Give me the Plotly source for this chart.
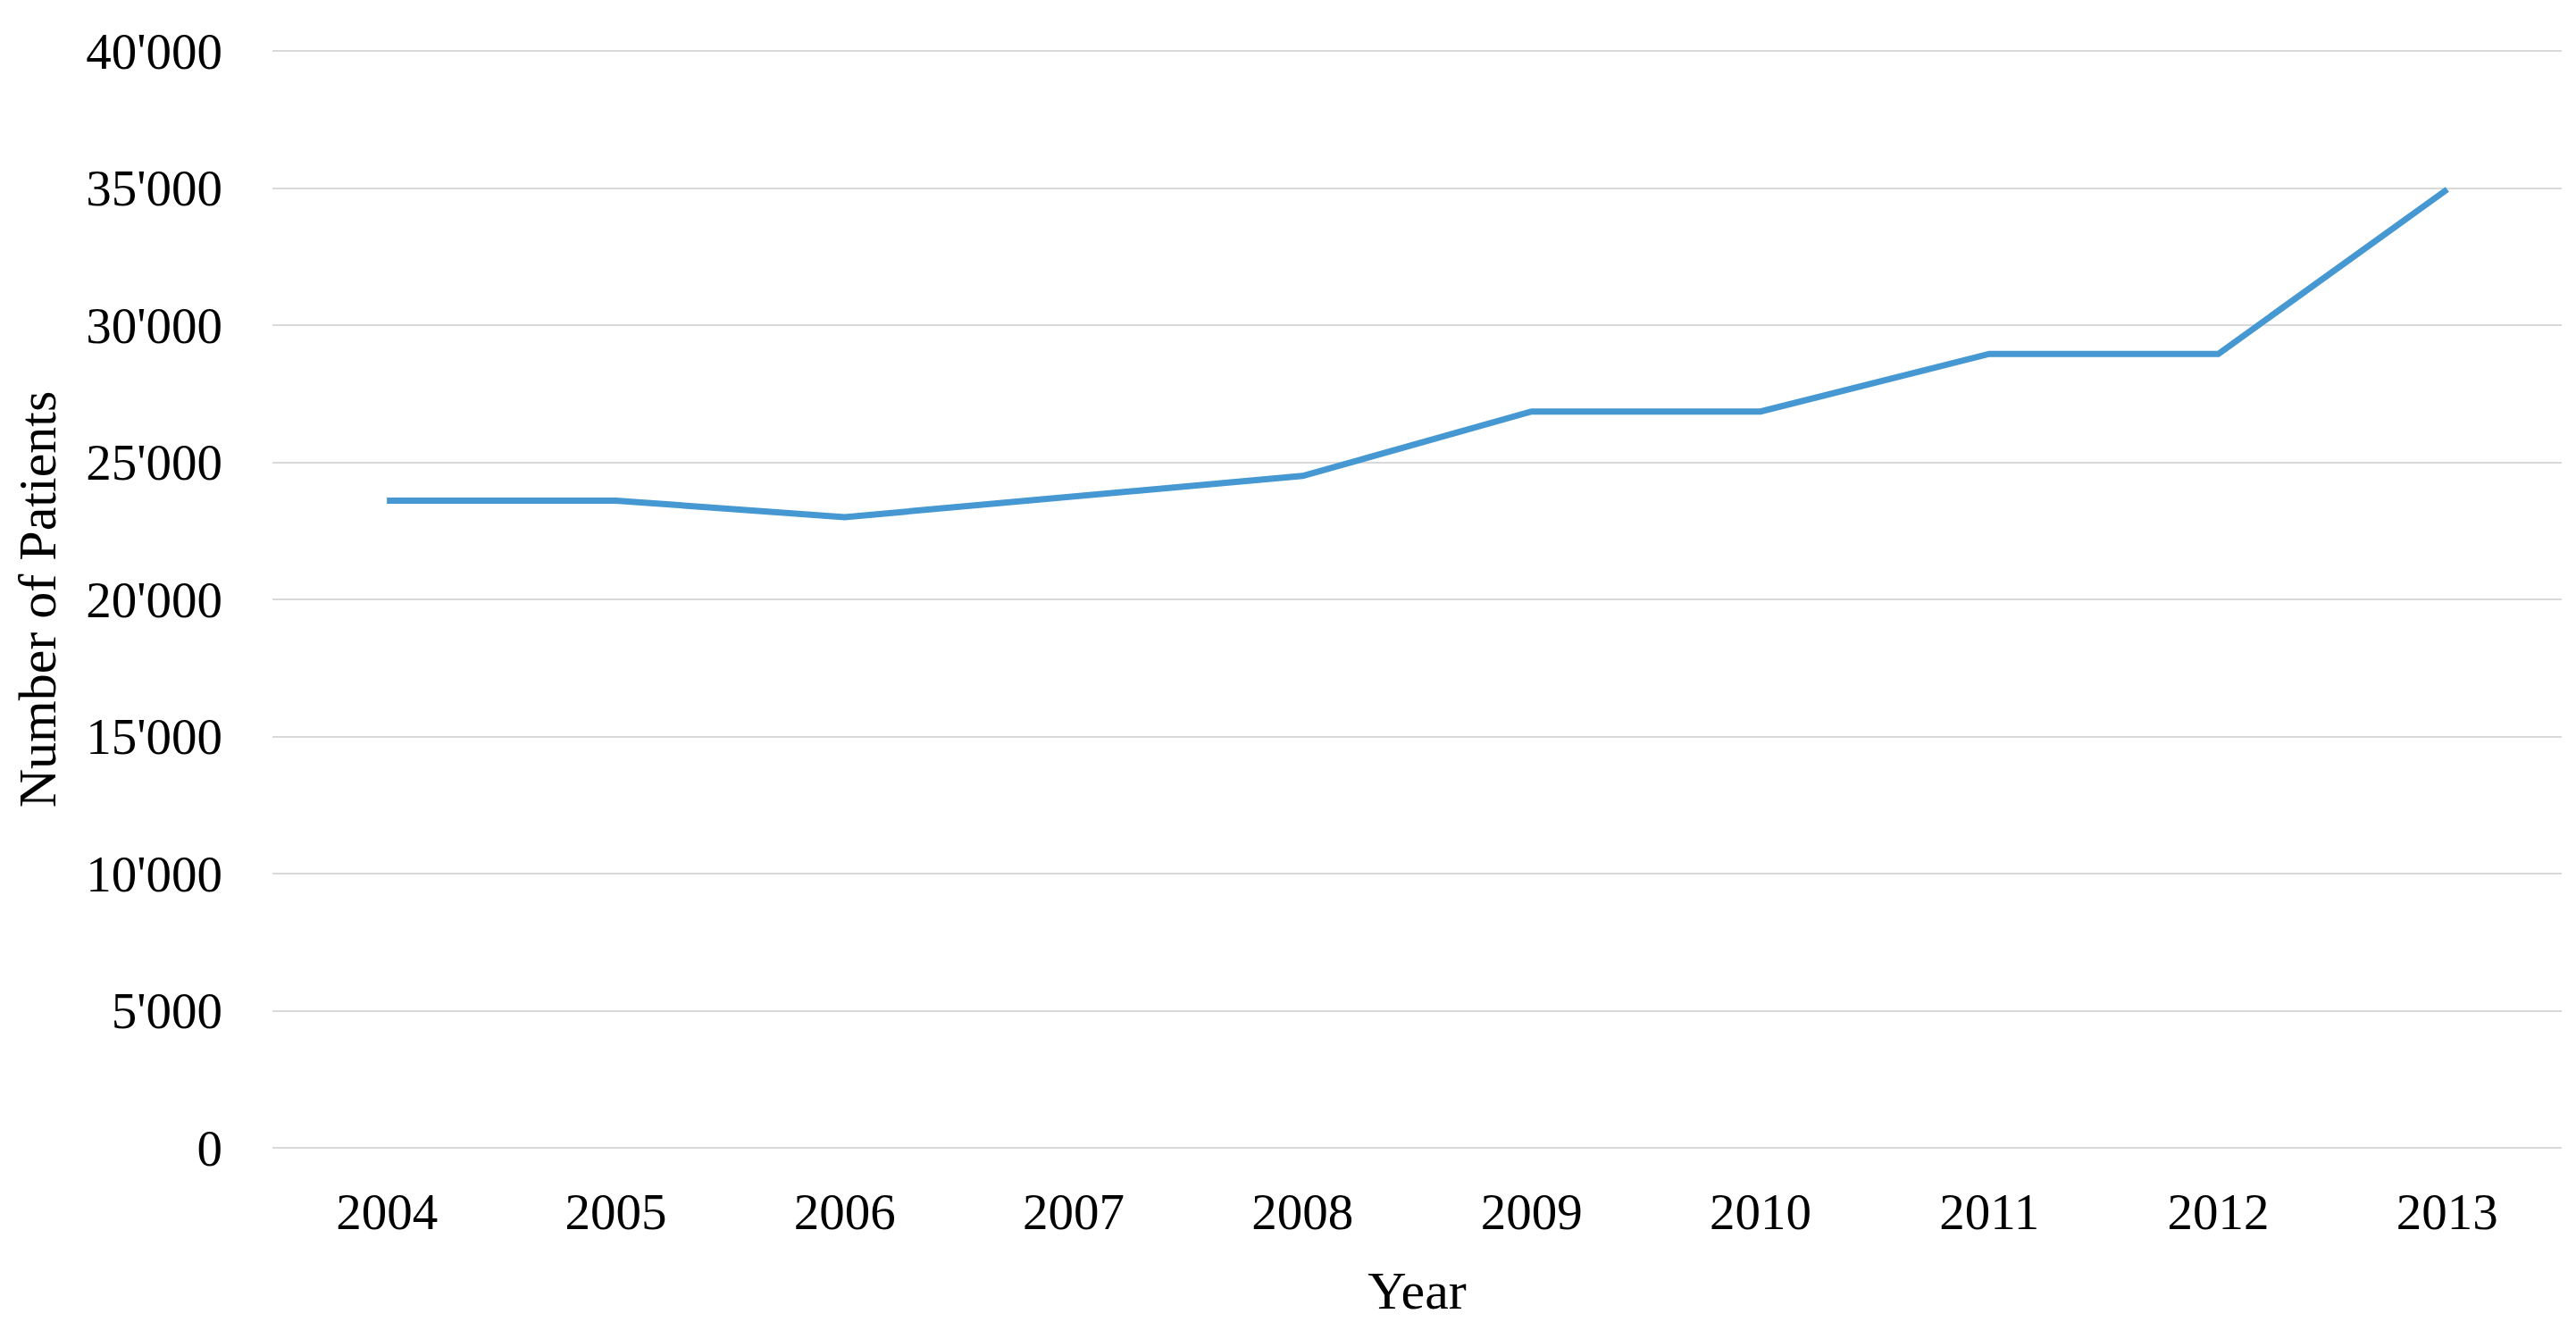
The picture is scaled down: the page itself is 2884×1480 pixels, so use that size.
import plotly.graph_objects as go

years = ["2004", "2005", "2006", "2007", "2008", "2009", "2010", "2011", "2012", "2013"]
patients = [23600, 23600, 23000, 23750, 24500, 26850, 26850, 28950, 28950, 34950]
y_ticks = [0, 5000, 10000, 15000, 20000, 25000, 30000, 35000, 40000]

FONT = "Liberation Serif"

fig = go.Figure()
fig.add_trace(go.Scatter(
    x=years, y=patients, mode="lines",
    line=dict(color="#4598D1", width=7),
    showlegend=False,
))

fig.update_layout(
    width=2876, height=1472,
    margin=dict(l=297, r=16, t=47, b=193, autoexpand=False),
    paper_bgcolor="white", plot_bgcolor="white",
    separators=".'",
    font=dict(family=FONT, color="black", size=57),
)
fig.update_xaxes(
    type="category", range=[-0.5, 9.5],
    showgrid=False, zeroline=False, showline=False, ticks="",
    ticklabelstandoff=31,
    tickfont=dict(family=FONT, size=57, color="black"),
    title=dict(text="Year", font=dict(family=FONT, size=60, color="black"), standoff=35),
    automargin=False,
)
fig.update_yaxes(
    range=[-65, 40065], tickvals=y_ticks, tickformat=",",
    showgrid=True, gridcolor="#D9D9D9", gridwidth=2,
    zeroline=True, zerolinecolor="#D9D9D9", zerolinewidth=2,
    showline=False, ticks="",
    ticklabelstandoff=55,
    tickfont=dict(family=FONT, size=57, color="black"),
    title=dict(text="Number of Patients", font=dict(family=FONT, size=60, color="black"), standoff=14),
    automargin=False,
)

fig.write_html("out.html")
